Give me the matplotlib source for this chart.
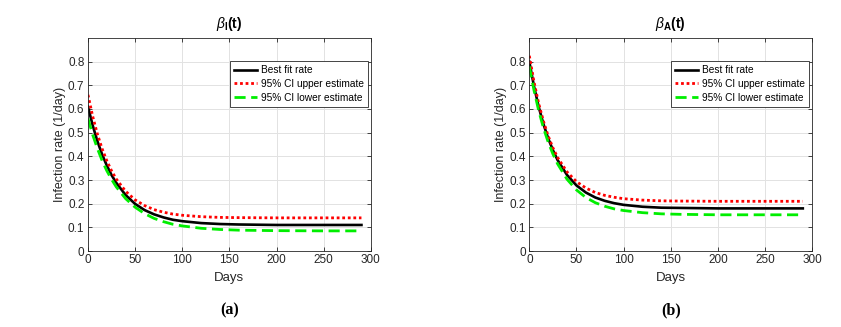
import numpy as np
import matplotlib
matplotlib.use('Agg')
import matplotlib.pyplot as plt

plt.rcParams['font.family'] = ['Liberation Sans', 'DejaVu Sans']
plt.rcParams['mathtext.fontset'] = 'custom'
plt.rcParams['mathtext.rm'] = 'Liberation Sans'
plt.rcParams['mathtext.it'] = 'Liberation Sans:italic'
plt.rcParams['mathtext.bf'] = 'Liberation Sans:bold'

days = [0, 5, 10, 15, 20, 25, 30, 40, 50, 60, 70, 80, 90, 100, 120, 140, 160, 200, 250, 290]

# panel (a): beta_I(t)
a_best = [0.610, 0.531, 0.464, 0.408, 0.361, 0.321, 0.288, 0.236, 0.199, 0.173,
          0.155, 0.142, 0.132, 0.126, 0.118, 0.114, 0.112, 0.110, 0.110, 0.110]
a_upper = [0.660, 0.569, 0.494, 0.432, 0.381, 0.339, 0.304, 0.252, 0.216, 0.192,
           0.175, 0.164, 0.156, 0.151, 0.145, 0.142, 0.141, 0.140, 0.140, 0.140]
a_lower = [0.560, 0.491, 0.433, 0.382, 0.339, 0.303, 0.271, 0.221, 0.185, 0.158,
           0.138, 0.124, 0.113, 0.106, 0.096, 0.091, 0.088, 0.086, 0.085, 0.085]

# panel (b): beta_A(t)
b_best = [0.800, 0.695, 0.608, 0.536, 0.476, 0.426, 0.384, 0.321, 0.277, 0.247,
          0.226, 0.212, 0.202, 0.195, 0.187, 0.183, 0.182, 0.180, 0.180, 0.180]
b_upper = [0.825, 0.714, 0.622, 0.548, 0.486, 0.436, 0.395, 0.334, 0.293, 0.266,
           0.247, 0.235, 0.227, 0.221, 0.215, 0.212, 0.211, 0.210, 0.210, 0.210]
b_lower = [0.780, 0.678, 0.592, 0.520, 0.460, 0.410, 0.368, 0.303, 0.258, 0.226,
           0.204, 0.189, 0.178, 0.171, 0.162, 0.157, 0.155, 0.153, 0.153, 0.153]

panels = [
    (r'$\beta_{\mathbf{I}}\mathbf{(t)}$', '(a)', a_best, a_upper, a_lower, 0.1046),
    (r'$\beta_{\mathbf{A}}\mathbf{(t)}$', '(b)', b_best, b_upper, b_lower, 0.6294),
]

fig = plt.figure(figsize=(8.41, 3.27), dpi=100)

for title, tag, best, upper, lower, left in panels:
    ax = fig.add_axes([left, 0.2324, 0.3364, 0.6514])
    ax.plot(days, best, color='black', lw=1.9, label='Best fit rate')
    ax.plot(days, upper, color='red', lw=2.0, ls=(0, (1, 1)), dash_capstyle='butt',
            label='95% CI upper estimate')
    ax.plot(days, lower, color='#00ee00', lw=2.0, ls=(0, (4, 2)), dash_capstyle='butt',
            label='95% CI lower estimate')
    ax.set_xlim(0, 300)
    ax.set_ylim(0, 0.9)
    ax.set_xticks(np.arange(0, 301, 50))
    ax.set_yticks(np.arange(0, 0.81, 0.1))
    ax.set_yticklabels(['0', '0.1', '0.2', '0.3', '0.4', '0.5', '0.6', '0.7', '0.8'])
    ax.grid(True, color='#e2e2e2', lw=0.7)
    ax.tick_params(direction='in', top=True, right=True, labelsize=8.5, length=3,
                   width=0.6, colors='#262626', labelcolor='#262626', pad=2.5)
    for s in ax.spines.values():
        s.set_linewidth(0.6)
        s.set_color('#262626')
    ax.set_xlabel('Days', fontsize=9.5, color='#262626', labelpad=4)
    ax.set_ylabel('Infection rate (1/day)', fontsize=9, color='#262626', labelpad=1.5)
    ax.set_title(title, fontsize=10, fontweight='bold', pad=7)
    leg = ax.legend(loc='upper right', bbox_to_anchor=(0.99, 0.89), borderaxespad=0,
                    fontsize=7.3, handlelength=2.3, handletextpad=0.4,
                    labelspacing=0.35, borderpad=0.4, fancybox=False, framealpha=1)
    leg.get_frame().set_edgecolor('#262626')
    leg.get_frame().set_linewidth(0.6)
    fig.text(left + 0.3364 / 2, 0.052, tag, ha='center', va='center',
             fontsize=11.5, fontweight='bold', family='Liberation Serif')

fig.savefig('out.png', dpi=100)
